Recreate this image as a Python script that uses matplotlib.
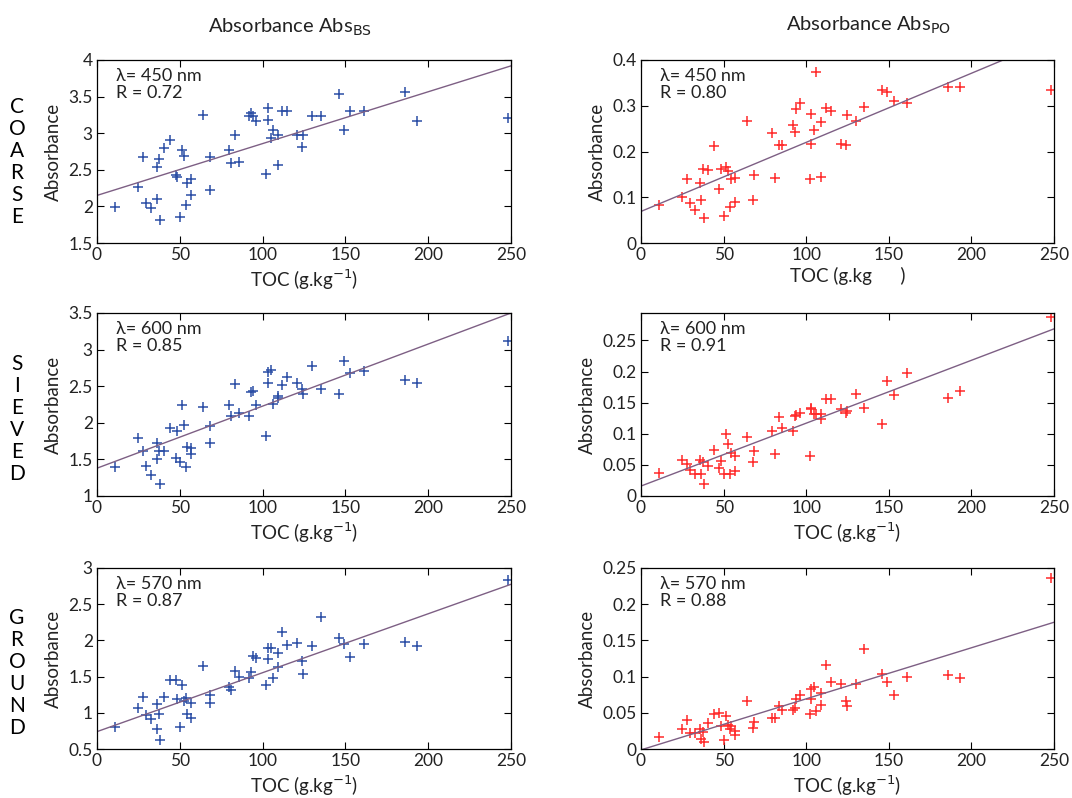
import numpy as np
import matplotlib
matplotlib.use("Agg")
import matplotlib.pyplot as plt

plt.rcParams['font.family'] = ['Lato', 'DejaVu Sans']

# TOC of the samples (g/kg), same samples in every panel
toc = [11, 25, 28, 29.5, 32.5, 36, 36.5, 37.5, 38, 40.5, 44, 47.5, 48.5, 50,
       51.5, 52.5, 54, 54.5, 57, 57, 64, 68, 68.5, 79.5, 81, 83.5, 85.5, 92,
       93, 94, 96, 102, 103, 103, 105, 106, 109, 109, 112, 115, 121, 124,
       124.5, 130, 135, 146, 149, 153, 161, 186, 193, 248]

# absorbances
bs_coarse = [1.99, 2.26, 2.67, 2.04, 1.98, 2.54, 2.10, 2.65, 1.81, 2.80, 2.91,
             2.43, 2.40, 1.85, 2.77, 2.69, 2.02, 2.32, 2.38, 2.16, 3.25, 2.22,
             2.67, 2.77, 2.59, 2.97, 2.61, 3.23, 3.27, 3.24, 3.17, 2.44, 3.35,
             3.18, 2.94, 3.04, 2.98, 2.57, 3.31, 3.30, 2.97, 2.81, 2.98, 3.24,
             3.23, 3.54, 3.04, 3.30, 3.31, 3.56, 3.17, 3.21]
po_coarse = [0.082, 0.100, 0.140, 0.087, 0.072, 0.131, 0.094, 0.162, 0.054,
             0.160, 0.211, 0.117, 0.162, 0.058, 0.166, 0.157, 0.078, 0.140,
             0.089, 0.142, 0.267, 0.093, 0.148, 0.240, 0.142, 0.215, 0.215,
             0.257, 0.243, 0.292, 0.306, 0.140, 0.283, 0.216, 0.248, 0.374,
             0.265, 0.145, 0.294, 0.289, 0.217, 0.215, 0.279, 0.267, 0.298,
             0.334, 0.329, 0.311, 0.306, 0.341, 0.340, 0.334]
bs_sieved = [1.39, 1.79, 1.61, 1.41, 1.29, 1.73, 1.50, 1.62, 1.16, 1.62, 1.93,
             1.52, 1.89, 1.46, 2.24, 1.97, 1.39, 1.67, 1.65, 1.57, 2.22, 1.72,
             1.96, 2.24, 2.09, 2.53, 2.14, 2.09, 2.42, 2.44, 2.24, 1.82, 2.70,
             2.55, 2.72, 2.26, 2.37, 2.34, 2.52, 2.62, 2.55, 2.46, 2.40, 2.77,
             2.46, 2.39, 2.85, 2.68, 2.71, 2.58, 2.54, 3.12]
po_sieved = [0.037, 0.058, 0.051, 0.041, 0.035, 0.058, 0.036, 0.054, 0.020,
             0.049, 0.074, 0.045, 0.057, 0.035, 0.099, 0.083, 0.036, 0.069,
             0.064, 0.040, 0.094, 0.054, 0.072, 0.105, 0.068, 0.127, 0.110,
             0.104, 0.128, 0.130, 0.133, 0.065, 0.142, 0.140, 0.132, 0.132,
             0.132, 0.123, 0.156, 0.156, 0.139, 0.133, 0.137, 0.164, 0.142,
             0.115, 0.184, 0.163, 0.198, 0.158, 0.169, 0.287]
bs_ground = [0.81, 1.07, 1.22, 0.97, 0.91, 1.12, 0.78, 0.98, 0.63, 1.22, 1.45,
             1.45, 1.19, 0.80, 1.39, 1.16, 1.20, 0.99, 1.13, 0.93, 1.65, 1.13,
             1.25, 1.35, 1.32, 1.58, 1.49, 1.48, 1.57, 1.78, 1.76, 1.39, 1.89,
             1.74, 1.89, 1.48, 1.83, 1.63, 2.11, 1.94, 1.96, 1.72, 1.53, 1.92,
             2.33, 2.03, 1.95, 1.77, 1.95, 1.98, 1.92, 2.83]
po_ground = [0.017, 0.028, 0.040, 0.022, 0.022, 0.028, 0.014, 0.023, 0.009,
             0.036, 0.049, 0.050, 0.032, 0.013, 0.045, 0.033, 0.027, 0.032,
             0.025, 0.019, 0.066, 0.029, 0.037, 0.043, 0.043, 0.059, 0.054,
             0.054, 0.057, 0.069, 0.074, 0.048, 0.069, 0.083, 0.086, 0.052,
             0.078, 0.061, 0.116, 0.093, 0.090, 0.066, 0.060, 0.090, 0.138,
             0.103, 0.093, 0.075, 0.099, 0.102, 0.098, 0.236]

# regression lines (intercept, slope) as drawn
fit_bs = [(2.15, 0.00708), (1.38, 0.00848), (0.74, 0.00814)]
fit_po = [(0.069, 0.00151), (0.016, 0.00101), (-0.0012, 0.000705)]

wavelengths = [450, 600, 570]
r_bs = ["0.72", "0.85", "0.87"]
r_po = ["0.80", "0.91", "0.88"]
rows = ["COARSE", "SIEVED", "GROUND"]

bs_data = [bs_coarse, bs_sieved, bs_ground]
po_data = [po_coarse, po_sieved, po_ground]
ylims_bs = [(1.5, 4), (1, 3.5), (0.5, 3)]
ylims_po = [(0, 0.4), (0, 0.294), (0, 0.25)]
yticks_bs = [np.arange(1.5, 4.01, 0.5), np.arange(1, 3.51, 0.5), np.arange(0.5, 3.01, 0.5)]
yticks_po = [np.arange(0, 0.41, 0.1), np.arange(0, 0.26, 0.05), np.arange(0, 0.26, 0.05)]

W, H = 1072, 798
fig = plt.figure(figsize=(W / 100, H / 100), dpi=100)

# axes boxes in pixels: left, top, right, bottom
col_px = [(97, 511), (641, 1054)]
row_px = [(60, 243), (313, 496), (568, 749)]

blue = '#2b4ea5'
red = '#ff2a2a'
linec = '#7d5f84'
xs = np.array([0, 250])


def style(ax, ylim, yticks):
    ax.set_xlim(0, 250)
    ax.set_ylim(*ylim)
    ax.set_xticks(np.arange(0, 251, 50))
    ax.set_yticks(yticks)
    ax.set_yticklabels([f"{v:g}" for v in yticks])
    ax.tick_params(direction='in', top=True, right=True, length=5, labelsize=12.5,
                   width=0.8, pad=3, labelcolor='#222222')
    for s in ax.spines.values():
        s.set_linewidth(0.9)
    ax.set_ylabel("Absorbance", fontsize=13.5, labelpad=5, color='#222222')


for i in range(3):
    t, b = row_px[i]
    for j in range(2):
        l, r = col_px[j]
        ax = fig.add_axes([l / W, 1 - b / H, (r - l) / W, (b - t) / H])
        if j == 0:
            ydata, fit, rr, ylim, yt, col = bs_data[i], fit_bs[i], r_bs[i], ylims_bs[i], yticks_bs[i], blue
        else:
            ydata, fit, rr, ylim, yt, col = po_data[i], fit_po[i], r_po[i], ylims_po[i], yticks_po[i], red
        ax.plot(toc, ydata, '+', color=col, markersize=7, markeredgewidth=1.1)
        ax.plot(xs, fit[0] + fit[1] * xs, color=linec, linewidth=1.0)
        style(ax, ylim, yt)
        ax.text(0.045, 0.955, f"λ= {wavelengths[i]} nm\nR = {rr}", transform=ax.transAxes,
                ha='left', va='top', fontsize=13, linespacing=1.08, color='#222222')
        if i == 0 and j == 1:
            ax.set_xlabel("TOC (g.kg      )", fontsize=13.5, labelpad=3, color='#222222')
        else:
            ax.set_xlabel("TOC (g.kg$^{-1}$)", fontsize=13.5, labelpad=3, color='#222222')

fig.text(290 / W, 1 - 27 / H, "Absorbance Abs$_{\\mathrm{BS}}$", ha='center', va='center',
         fontsize=14.5, color='#222222')
fig.text(868 / W, 1 - 25 / H, "Absorbance Abs$_{\\mathrm{PO}}$", ha='center', va='center',
         fontsize=14.5, color='#222222')

row_centers = [162, 419, 673]
for name, yc in zip(rows, row_centers):
    fig.text(17 / W, 1 - yc / H, "\n".join(name), ha='center', va='center',
             fontsize=15, linespacing=1.12)

fig.savefig("out.png", dpi=100)
